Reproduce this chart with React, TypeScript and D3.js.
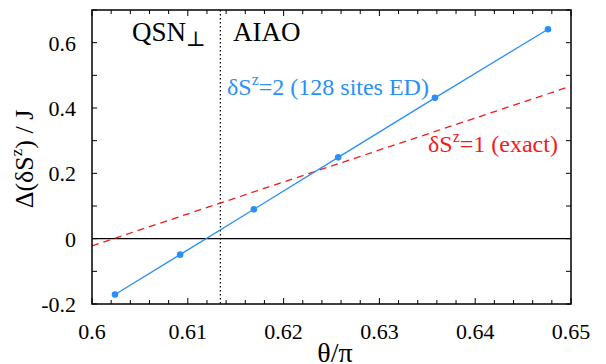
import React from 'react';
import * as d3 from 'd3';

// gap data
const edTheta = [0.6024, 0.6092, 0.6169, 0.6257, 0.6358, 0.6476];
const edGap = [-0.171, -0.049, 0.09, 0.249, 0.431, 0.641];
const exactTheta = [0.6, 0.65];
const exactGap = [-0.022, 0.467];
const transitionTheta = 0.6134;

const xTicks = [0.6, 0.61, 0.62, 0.63, 0.64, 0.65];
const yTicks = [-0.2, 0, 0.2, 0.4, 0.6];

const W = 606;
const H = 364;
const margin = { top: 10, right: 35, bottom: 60, left: 92 };
const FONT = "'Liberation Serif', Tinos, 'DejaVu Serif', serif";
const BLUE = '#2b8ff5';
const RED = '#f21b1b';

const App = () => {
  const x = d3.scaleLinear().domain([0.6, 0.65]).range([margin.left, W - margin.right]);
  const y = d3.scaleLinear().domain([-0.2, 0.7]).range([H - margin.bottom, margin.top]);
  const [x0, x1] = x.range();
  const [y0, y1] = y.range();

  const line = d3.line<[number, number]>().x(d => x(d[0])).y(d => y(d[1]));
  const edPts: [number, number][] = edTheta.map((t, i) => [t, edGap[i]]);
  const exactPts: [number, number][] = exactTheta.map((t, i) => [t, exactGap[i]]);

  const xMinor = d3.range(0.6, 0.6501, 0.002);
  const yMinor = d3.range(-0.2, 0.701, 0.1);

  return (
    <svg width={W} height={H} style={{ position: 'absolute', left: 0, top: 0, fontFamily: FONT }}>
      <defs>
        <clipPath id="plot">
          <rect x={x0} y={y1} width={x1 - x0} height={y0 - y1} />
        </clipPath>
      </defs>

      {/* ticks, bottom + top */}
      {xMinor.map((t, i) => {
        const major = Math.round(t * 1000) % 10 === 0;
        const len = major ? 6 : 4;
        return (
          <g key={'xt' + i} stroke="#000" strokeWidth={1}>
            <line x1={x(t)} x2={x(t)} y1={y0} y2={y0 - len} />
            <line x1={x(t)} x2={x(t)} y1={y1} y2={y1 + len} />
          </g>
        );
      })}
      {yMinor.map((v, i) => (
        <g key={'yt' + i} stroke="#000" strokeWidth={1}>
          <line x1={x0} x2={x0 + 5} y1={y(v)} y2={y(v)} />
          <line x1={x1} x2={x1 - 5} y1={y(v)} y2={y(v)} />
        </g>
      ))}

      {xTicks.map(t => (
        <text key={'xl' + t} x={x(t)} y={339} fontSize={22} textAnchor="middle">{t}</text>
      ))}
      {yTicks.map(v => (
        <text key={'yl' + v} x={x0 - 16} y={y(v) + 8} fontSize={22} textAnchor="end">{v}</text>
      ))}

      {/* zero line and transition */}
      <line x1={x0} x2={x1} y1={y(0)} y2={y(0)} stroke="#000" strokeWidth={1.2} />
      <line x1={x(transitionTheta)} x2={x(transitionTheta)} y1={y1} y2={y0}
        stroke="#000" strokeWidth={1.2} strokeDasharray="1.5,2.5" />

      <g clipPath="url(#plot)">
        <path d={line(exactPts) ?? ''} fill="none" stroke={RED} strokeWidth={1.3} strokeDasharray="7,5" />
        <path d={line(edPts) ?? ''} fill="none" stroke={BLUE} strokeWidth={1.3} />
        {edPts.map((d, i) => (
          <circle key={'p' + i} cx={x(d[0])} cy={y(d[1])} r={3.3} fill={BLUE} />
        ))}
      </g>

      <rect x={x0} y={y1} width={x1 - x0} height={y0 - y1} fill="none" stroke="#000" strokeWidth={1.5} />

      {/* phase labels */}
      <text x={132} y={41} fontSize={27}>QSN<tspan fontSize={21} dy={5}>⊥</tspan></text>
      <text x={233} y={41} fontSize={27}>AIAO</text>

      <text x={227} y={95} fontSize={24} fill={BLUE}>
        δS<tspan fontSize={16} dy={-10}>z</tspan><tspan dy={10}>=2 (128 sites ED)</tspan>
      </text>
      <text x={428} y={152} fontSize={24} fill={RED}>
        δS<tspan fontSize={16} dy={-10}>z</tspan><tspan dy={10}>=1 (exact)</tspan>
      </text>

      {/* axis titles */}
      <text transform={`translate(33,159) rotate(-90)`} fontSize={26} textAnchor="middle">
        Δ(δS<tspan fontSize={17} dy={-11}>z</tspan><tspan dy={11}>) / J</tspan>
      </text>
      <text x={335} y={362} fontSize={28} textAnchor="middle">θ/π</text>
    </svg>
  );
};

export default App;
